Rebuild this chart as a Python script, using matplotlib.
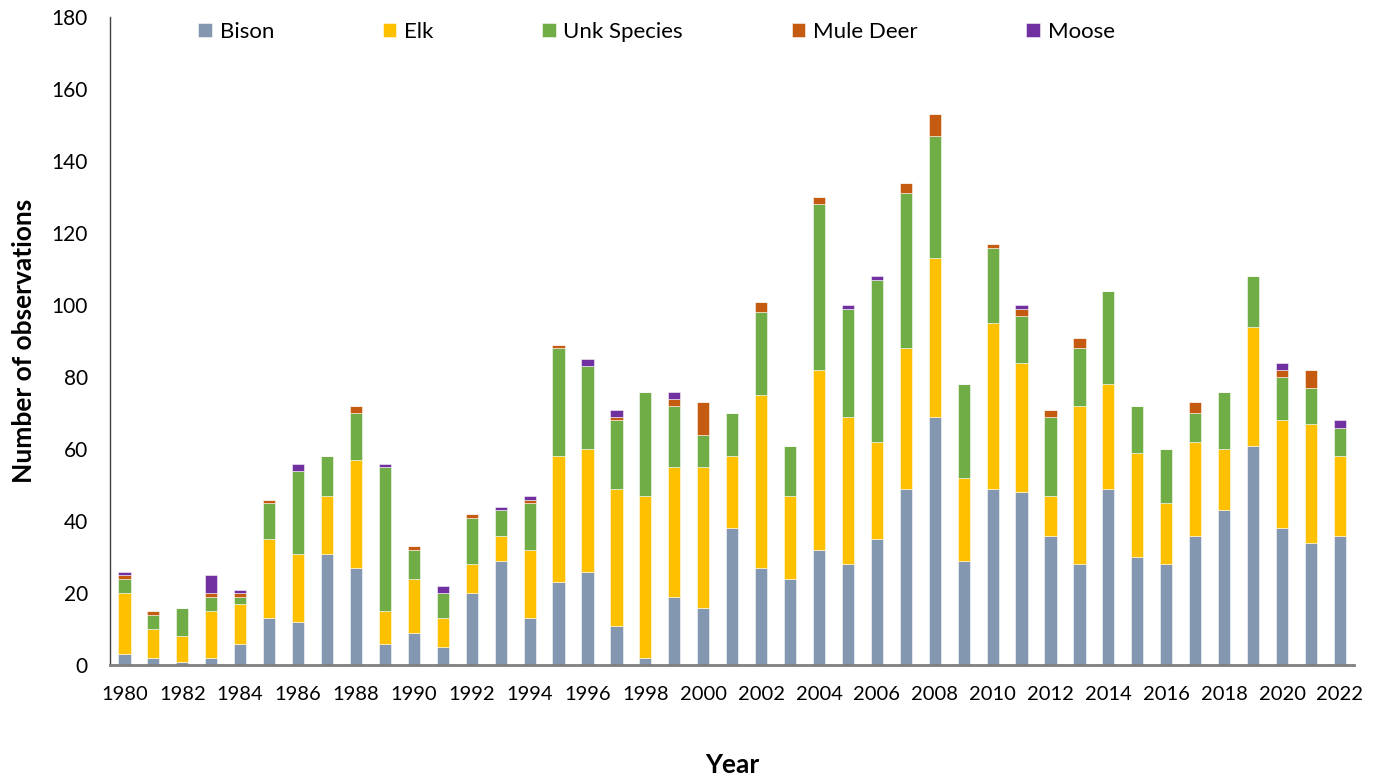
import numpy as np
import matplotlib
matplotlib.use("Agg")
import matplotlib.pyplot as plt

years = list(range(1980, 2023))

bison = [3, 2, 1, 2, 6, 13, 12, 31, 27, 6, 9, 5, 20, 29, 13, 23, 26, 11, 2, 19, 16, 38,
         27, 24, 32, 28, 35, 49, 69, 29, 49, 48, 36, 28, 49, 30, 28, 36, 43, 61, 38, 34, 36]
elk = [17, 8, 7, 13, 11, 22, 19, 16, 30, 9, 15, 8, 8, 7, 19, 35, 34, 38, 45, 36, 39, 20,
       48, 23, 50, 41, 27, 39, 44, 23, 46, 36, 11, 44, 29, 29, 17, 26, 17, 33, 30, 33, 22]
unk = [4, 4, 8, 4, 2, 10, 23, 11, 13, 40, 8, 7, 13, 7, 13, 30, 23, 19, 29, 17, 9, 12,
       23, 14, 46, 30, 45, 43, 34, 26, 21, 13, 22, 16, 26, 13, 15, 8, 16, 14, 12, 10, 8]
mule_deer = [1, 1, 0, 1, 1, 1, 0, 0, 2, 0, 1, 0, 1, 0, 1, 1, 0, 1, 0, 2, 9, 0,
             3, 0, 2, 0, 0, 3, 6, 0, 1, 2, 2, 3, 0, 0, 0, 3, 0, 0, 2, 5, 0]
moose = [1, 0, 0, 5, 1, 0, 2, 0, 0, 1, 0, 2, 0, 1, 1, 0, 2, 2, 0, 2, 0, 0,
         0, 0, 0, 1, 1, 0, 0, 0, 0, 1, 0, 0, 0, 0, 0, 0, 0, 0, 2, 0, 2]

series = [
    ("Bison", bison, "#8497B0"),
    ("Elk", elk, "#FFC000"),
    ("Unk Species", unk, "#70AD47"),
    ("Mule Deer", mule_deer, "#C55A11"),
    ("Moose", moose, "#7030A0"),
]

plt.rcParams["font.family"] = ["Lato", "DejaVu Sans"]

fig = plt.figure(figsize=(13.75, 7.77), dpi=100)
ax = fig.add_axes([0.08, 0.144, 0.905, 0.834])

x = np.arange(len(years))
bottom = np.zeros(len(years))
for name, vals, color in series:
    vals = np.array(vals, dtype=float)
    ax.bar(x, vals, width=0.42, bottom=bottom, color=color, label=name,
           edgecolor=(1, 1, 1, 0.6), linewidth=0.6, zorder=2)
    bottom += vals

ax.set_xlim(-0.5, len(years) - 0.5)
ax.set_ylim(0, 180)
ax.set_yticks(range(0, 181, 20))
ax.set_xticks(x[::2])
ax.set_xticklabels([str(y) for y in years[::2]])
ax.tick_params(axis="both", length=0, colors="black")
ax.tick_params(axis="x", pad=15, labelsize=14.5)
ax.tick_params(axis="y", pad=16, labelsize=15)

for s in ["top", "right"]:
    ax.spines[s].set_visible(False)
ax.spines["left"].set_color("#404040")
ax.spines["left"].set_linewidth(1.0)
ax.spines["bottom"].set_color("#7f7f7f")
ax.spines["bottom"].set_linewidth(2.0)
ax.spines["bottom"].set_zorder(3)

ax.set_ylabel("Number of observations", fontsize=19, fontweight="bold", labelpad=11)
ax.set_xlabel("Year", fontsize=19, fontweight="bold", labelpad=36)

ax.legend(loc="upper left", bbox_to_anchor=(0.055, 1.024), ncol=5, frameon=False,
          fontsize=16, handlelength=0.6, handleheight=0.6, handletextpad=0.35,
          columnspacing=4.9)

fig.savefig("out.png", dpi=100)
